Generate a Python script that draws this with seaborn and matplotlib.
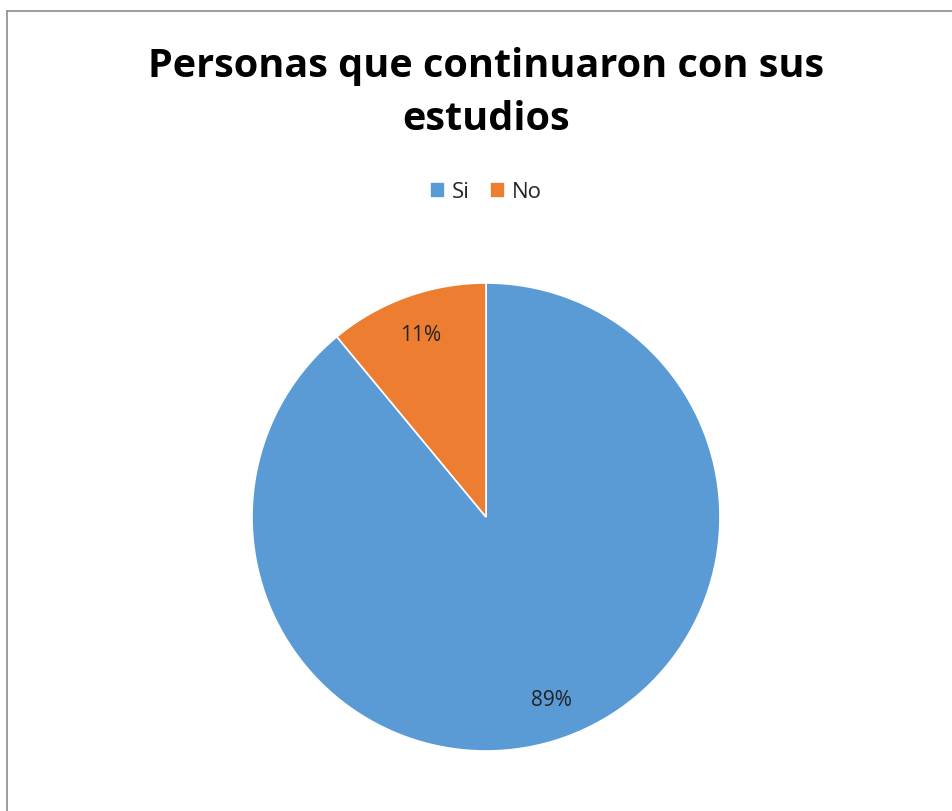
import matplotlib
matplotlib.use("Agg")
import matplotlib.pyplot as plt
import seaborn as sns
from matplotlib.lines import Line2D

# datos del gráfico
categorias = ["Si", "No"]
porcentajes = [89, 11]
colores = ["#5B9BD5", "#ED7D31"]
titulo = "Personas que continuaron con sus\nestudios"

sns.set_theme(style="white")
plt.rcParams['font.family'] = ['Open Sans', 'DejaVu Sans']

W, H = 952, 812
fig = plt.figure(figsize=(W / 100, H / 100), dpi=100)

# borde del área del gráfico
fig.add_artist(Line2D([6.5 / W, 6.5 / W], [0, 1 - 11.5 / H], color="#8c8c8c", lw=1.2))
fig.add_artist(Line2D([6.5 / W, 1], [1 - 11.5 / H, 1 - 11.5 / H], color="#8c8c8c", lw=1.2))

cx, cy, r = 486, 518, 234
ax = fig.add_axes([(cx - r) / W, (H - cy - r) / H, 2 * r / W, 2 * r / H])
wedges, textos, autotextos = ax.pie(
    porcentajes, colors=colores, startangle=90, counterclock=False,
    autopct="%d%%", pctdistance=0.83,
    wedgeprops=dict(edgecolor="white", linewidth=1.2),
    textprops=dict(fontsize=15, color="#222222"))
ax.set_xlim(-1, 1)
ax.set_ylim(-1, 1)
ax.axis("off")

fig.text(cx / W, 1 - 93 / H, titulo, ha="center", va="center",
         fontsize=28.5, fontweight="bold", linespacing=1.45, color="black")

fig.legend(wedges, categorias, loc="center", bbox_to_anchor=(cx / W, 1 - 193 / H),
           ncol=2, frameon=False, fontsize=16, handlelength=0.7, handleheight=0.7,
           handletextpad=0.3, columnspacing=0.9)

fig.savefig("out.png", dpi=100)
